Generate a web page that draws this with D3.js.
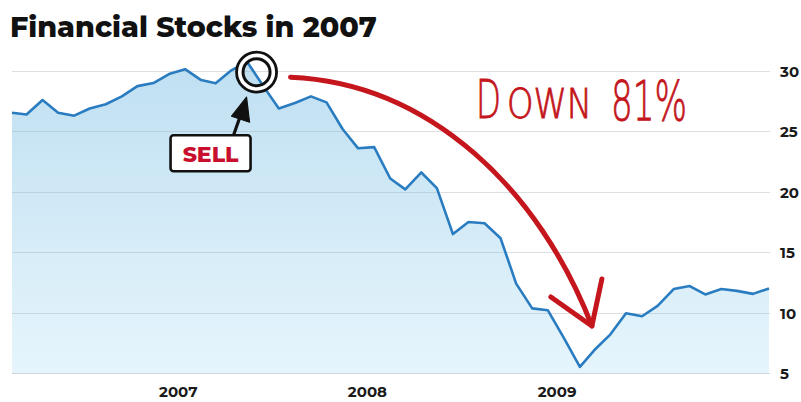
<!DOCTYPE html>
<html>
<head>
<meta charset="utf-8">
<script src="https://cdn.jsdelivr.net/npm/d3@7"></script>
<style>
  html, body { margin: 0; padding: 0; background: #fff; }
  svg { display: block; }
</style>
</head>
<body>
<svg id="chart" width="801" height="402"></svg>
<script>
// Monthly closing levels of the financial-stocks index, mid-month, Feb 2006 – Feb 2010
const startMonth = "2006-02";
const values = [
  26.55, 26.4, 27.6, 26.55, 26.3, 26.9, 27.25, 27.9, 28.75, 29.0, 29.75, 30.15,
  29.25, 28.98, 30.08, 30.75, 28.75, 26.9, 27.35, 27.9, 27.4, 25.2, 23.6, 23.7,
  21.1, 20.2, 21.6, 20.3, 16.5, 17.5, 17.4, 16.15, 12.4, 10.35, 10.2, 7.9,
  5.5, 6.9, 8.2, 9.95, 9.7, 10.55, 11.95, 12.2, 11.5, 11.95, 11.8, 11.55, 12.0
];
const yTicks = [5, 10, 15, 20, 25, 30];
const yearTicks = ["2007", "2008", "2009"];
const titleText = "Financial Stocks in 2007";
const sellLabel = "SELL";
const dropParts = ["D", "OWN", "81%"];

const parseMonth = d3.timeParse("%Y-%m");
const first = parseMonth(startMonth);
const data = values.map((v, i) => {
  const d = d3.timeMonth.offset(first, i);
  d.setDate(15);
  return { date: d, value: v };
});

const svg = d3.select("#chart");
const plotL = 12, plotR = 770, plotT = 71, plotB = 373;

const x = d3.scaleTime()
  .domain(d3.extent(data, d => d.date))
  .range([plotL, plotR - 1]);
const y = d3.scaleLinear().domain([5, 30]).range([plotB, plotT]);

// Title
svg.append("text")
  .attr("x", 10).attr("y", 37)
  .attr("font-family", "Montserrat, 'Open Sans', sans-serif")
  .attr("font-weight", 800)
  .attr("font-size", 28.5)
  .attr("fill", "#111")
  .text(titleText);

// Area gradient
const defs = svg.append("defs");
const grad = defs.append("linearGradient")
  .attr("id", "areaFill")
  .attr("gradientUnits", "userSpaceOnUse")
  .attr("x1", 0).attr("x2", 0).attr("y1", plotT).attr("y2", plotB);
grad.append("stop").attr("offset", 0).attr("stop-color", "#c0e0f2");
grad.append("stop").attr("offset", 1).attr("stop-color", "#e6f5fc");

const area = d3.area()
  .x(d => x(d.date))
  .y0(plotB)
  .y1(d => y(d.value));
svg.append("path").datum(data)
  .attr("d", area)
  .attr("fill", "url(#areaFill)");

// Horizontal grid lines
svg.append("g")
  .selectAll("line")
  .data(yTicks)
  .join("line")
  .attr("x1", plotL).attr("x2", plotR)
  .attr("y1", d => Math.round(y(d)) + 0.5).attr("y2", d => Math.round(y(d)) + 0.5)
  .attr("stroke", "#9aa5ab")
  .attr("stroke-opacity", d => d === 5 ? 0.45 : 0.35)
  .attr("stroke-width", 1.2);

// Right-hand value axis
const yAxis = d3.axisRight(y).tickValues(yTicks).tickSize(0).tickPadding(0);
svg.append("g")
  .attr("transform", `translate(${plotR + 10},0)`)
  .call(yAxis)
  .call(g => g.select(".domain").remove())
  .call(g => g.selectAll("text")
    .attr("font-family", "Montserrat, 'Open Sans', sans-serif")
    .attr("font-weight", 700)
    .attr("font-size", 15)
    .attr("fill", "#1a1a1a")
    .attr("dy", "0.36em"));

// Year axis
const xAxis = d3.axisBottom(x)
  .tickValues(yearTicks.map(s => d3.timeParse("%Y")(s)))
  .tickFormat(d3.timeFormat("%Y"))
  .tickSize(0).tickPadding(0);
svg.append("g")
  .attr("transform", `translate(0,${plotB + 13})`)
  .call(xAxis)
  .call(g => g.select(".domain").remove())
  .call(g => g.selectAll("text")
    .attr("font-family", "Montserrat, 'Open Sans', sans-serif")
    .attr("font-weight", 700)
    .attr("font-size", 15)
    .attr("fill", "#1a1a1a"));

// Price line
const line = d3.line().x(d => x(d.date)).y(d => y(d.value));
svg.append("path").datum(data)
  .attr("d", line)
  .attr("fill", "none")
  .attr("stroke", "#2a7cc1")
  .attr("stroke-width", 2.6)
  .attr("stroke-linejoin", "round");

// Sell marker: double ring on the line just after the peak
const sellDate = new Date(2007, 5, 2);
const sellValue = 29.9;
const sx = x(sellDate), sy = y(sellValue);
const ring = svg.append("g").attr("transform", `translate(${sx},${sy})`);
ring.append("circle").attr("r", 17).attr("fill", "none").attr("stroke", "#fff").attr("stroke-width", 5);
ring.append("circle").attr("r", 20).attr("fill", "none").attr("stroke", "#111").attr("stroke-width", 2.8);
ring.append("circle").attr("r", 13.5).attr("fill", "none").attr("stroke", "#111").attr("stroke-width", 3);

// Black pointer from the SELL box up to the ring
const tipX = sx - 10, tipY = sy + 25;
svg.append("line")
  .attr("x1", sx - 23).attr("y1", sy + 63)
  .attr("x2", sx - 15).attr("y2", sy + 40)
  .attr("stroke", "#111").attr("stroke-width", 3.2);
svg.append("path")
  .attr("d", `M${tipX},${tipY} L${sx - 25},${sy + 44} L${sx - 7},${sy + 50} Z`)
  .attr("fill", "#111")
  .attr("stroke", "#111").attr("stroke-width", 1.2).attr("stroke-linejoin", "round");

// SELL box
const boxW = 80, boxH = 36;
const bx = sx - 86, by = sy + 63;
svg.append("rect")
  .attr("x", bx).attr("y", by).attr("width", boxW).attr("height", boxH)
  .attr("rx", 3)
  .attr("fill", "#fff").attr("stroke", "#111").attr("stroke-width", 2.6);
svg.append("text")
  .attr("x", bx + boxW / 2).attr("y", by + 27)
  .attr("text-anchor", "middle")
  .attr("font-family", "Montserrat, 'Open Sans', sans-serif")
  .attr("font-weight", 800)
  .attr("font-size", 22)
  .attr("fill", "#c8102e")
  .text(sellLabel);

// Red curved arrow from the sell point down to the trough
const trough = data.reduce((a, b) => (b.value < a.value ? b : a));
const tx = x(trough.date), ty = y(trough.value);
const ax0 = sx + 34, ay0 = sy + 5;
const ax1 = tx + 12, ay1 = ty - 41;
const red = "#c4161c";
svg.append("path")
  .attr("d", `M${ax0},${ay0} C${ax0 + 140},${ay0 + 6} ${ax1 - 52},${ay1 - 135} ${ax1},${ay1}`)
  .attr("fill", "none").attr("stroke", red).attr("stroke-width", 5)
  .attr("stroke-linecap", "round");
svg.append("path")
  .attr("d", `M${ax1 - 41},${ay1 - 29} L${ax1},${ay1} L${ax1 + 10},${ay1 - 47}`)
  .attr("fill", "none").attr("stroke", red).attr("stroke-width", 5)
  .attr("stroke-linecap", "round").attr("stroke-linejoin", "round");

// Hand-lettered drop annotation, thin pen strokes; each piece is squeezed
// horizontally to a narrow, hand-drawn width
const penParts = [
  { text: dropParts[0], x: 476, y: 118, w: 25, size: 54 },
  { text: dropParts[1], x: 507, y: 118, w: 85, size: 41 },
  { text: dropParts[2], x: 611, y: 120, w: 76, size: 56 }
];
svg.append("g")
  .selectAll("text")
  .data(penParts)
  .join("text")
  .attr("x", 0).attr("y", 0)
  .attr("font-size", d => d.size)
  .attr("font-family", "'DejaVu Sans', sans-serif")
  .attr("font-weight", 200)
  .attr("fill", red)
  .attr("stroke", red)
  .attr("stroke-width", 0.9)
  .text(d => d.text)
  .attr("transform", function (d) {
    const natural = this.getComputedTextLength();
    return `translate(${d.x},${d.y}) scale(${d.w / natural},1)`;
  });
</script>
</body>
</html>
